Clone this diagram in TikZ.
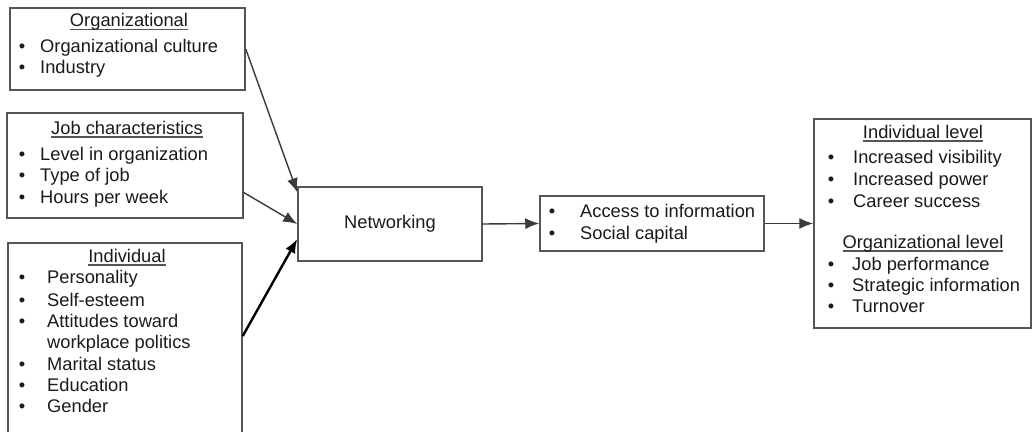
\documentclass[tikz,border=0pt]{standalone}
\usepackage{fontspec}
\setmainfont{Liberation Sans}
\usetikzlibrary{arrows.meta}

\definecolor{edge}{HTML}{555555}
\definecolor{wire}{HTML}{3A3A3A}
\definecolor{ink}{HTML}{1A1A1A}

% heading with a rule just under the baseline
\newcommand{\ulhead}[1]{\setbox0=\hbox{#1}\rlap{\color{edge}\rule[-3.5pt]{\wd0}{1.3pt}}\box0}
% bullet hung to the left of the item, #1 = gap
\newcommand{\bul}[1]{\llap{\textbullet\hspace{#1}}}

\begin{document}
\begin{tikzpicture}[x=1pt,y=-1pt,font=\fontsize{18.3}{22}\selectfont,text=ink,
  box/.style={draw=edge, line width=1.5pt, rectangle, inner sep=0pt},
  txt/.style={anchor=base west, inner sep=0pt},
  head/.style={anchor=base, inner sep=0pt},
  link/.style={draw=wire, line width=1.4pt, -{Latex[length=14pt,width=11pt]}}]
  \useasboundingbox (0,0) rectangle (1032,431);

  % boxes
  \node[box, minimum width=235, minimum height=82] (org) at (127.5,49) {};
  \node[box, minimum width=236, minimum height=105] (job) at (125,165.5) {};
  \node[box, minimum width=234, minimum height=204] (ind) at (125,345) {};
  \node[box, minimum width=184, minimum height=74] (net) at (390,224) {};
  \node[box, minimum width=224, minimum height=55] (acc) at (652,223.5) {};
  \node[box, minimum width=217, minimum height=209] (out) at (922.5,223.5) {};

  % organizational
  \node[head] (orgT) at (129,27) {\ulhead{Organizational}};
  \node[txt] (org1) at (40,52) {\bul{15pt}Organizational culture};
  \node[txt] (org2) at (40,73) {\bul{15pt}Industry};

  % job characteristics
  \node[head] (jobT) at (127,134) {\ulhead{Job characteristics}};
  \node[txt] (job1) at (40,160) {\bul{15pt}Level in organization};
  \node[txt] (job2) at (40,181) {\bul{15pt}Type of job};
  \node[txt] (job3) at (40,203) {\bul{15pt}Hours per week};

  % individual
  \node[head] (indT) at (127,262) {\ulhead{Individual}};
  \node[txt] (ind1) at (47,283) {\bul{22pt}Personality};
  \node[txt] (ind2) at (47,306) {\bul{22pt}Self-esteem};
  \node[txt] (ind3) at (47,327) {\bul{22pt}Attitudes toward};
  \node[txt] (ind4) at (47,348) {workplace politics};
  \node[txt] (ind5) at (47,370) {\bul{22pt}Marital status};
  \node[txt] (ind6) at (47,391) {\bul{22pt}Education};
  \node[txt] (ind7) at (47,412) {\bul{22pt}Gender};

  \node[head] (netT) at (390,228) {Networking};

  \node[txt] (acc1) at (580,217) {\bul{25pt}Access to information};
  \node[txt] (acc2) at (580,239) {\bul{25pt}Social capital};

  % outcomes
  \node[head] (outT) at (923,138) {\ulhead{Individual level}};
  \node[txt] (out1) at (853,163) {\bul{19pt}Increased visibility};
  \node[txt] (out2) at (853,185) {\bul{19pt}Increased power};
  \node[txt] (out3) at (853,207) {\bul{19pt}Career success};
  \node[head] (outU) at (923,248) {\ulhead{Organizational level}};
  \node[txt] (out4) at (852,270) {\bul{18pt}Job performance};
  \node[txt] (out5) at (852,291) {\bul{18pt}Strategic information};
  \node[txt] (out6) at (852,312) {\bul{18pt}Turnover};

  % arrows
  \draw[link] (org.east) -- ([yshift=-6pt]net.north west);
  \draw[link] ([yshift=-27pt]job.east) -- (net.west);
  \draw[link, draw=black, line width=2.4pt] ([yshift=9pt]ind.east) -- ([yshift=-15pt]net.west);
  \draw[link] (net.east) -- (acc.west);
  \draw[link] (acc.east) -- (out.west);
\end{tikzpicture}
\end{document}
